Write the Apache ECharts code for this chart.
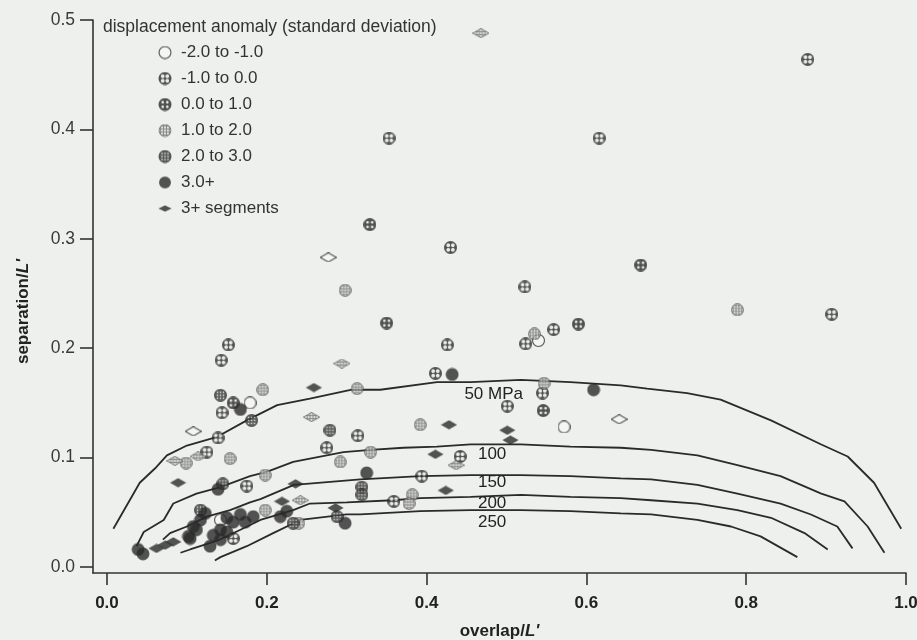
<!DOCTYPE html>
<html><head><meta charset="utf-8">
<script src="https://cdn.jsdelivr.net/npm/echarts@6/dist/echarts.min.js"></script>
<style>html,body{margin:0;padding:0;background:#eef0ed;}#c{width:917px;height:640px;}</style>
</head><body><div id="c"></div>
<script>
// ---------- data ----------
const xTicks = [0.0, 0.2, 0.4, 0.6, 0.8, 1.0];
const yTicks = [0.0, 0.1, 0.2, 0.3, 0.4, 0.5];
const legendTitle = 'displacement anomaly (standard deviation)';
const anomalyClasses = ['-2.0 to -1.0', '-1.0 to 0.0', '0.0 to 1.0', '1.0 to 2.0', '2.0 to 3.0', '3.0+'];
const segmentsLabel = '3+ segments';

const circlesNeg2 = [[0.179,0.150],[0.540,0.207],[0.572,0.128],[0.142,0.043]];
const circlesNeg1 = [[0.877,0.464],[0.353,0.392],[0.616,0.392],[0.430,0.292],[0.523,0.256],[0.907,0.231],[0.559,0.217],[0.152,0.203],[0.143,0.189],[0.144,0.141],[0.139,0.118],[0.314,0.120],[0.275,0.109],[0.125,0.105],[0.426,0.203],[0.524,0.204],[0.411,0.177],[0.545,0.159],[0.501,0.147],[0.442,0.101],[0.394,0.083],[0.175,0.074],[0.359,0.060],[0.158,0.026]];
const circlesPos0 = [[0.329,0.313],[0.668,0.276],[0.590,0.222],[0.350,0.223],[0.546,0.143],[0.158,0.150]];
const circlesPos1 = [[0.298,0.253],[0.789,0.235],[0.535,0.213],[0.195,0.162],[0.313,0.163],[0.099,0.095],[0.154,0.099],[0.292,0.096],[0.330,0.105],[0.198,0.084],[0.392,0.130],[0.382,0.066],[0.378,0.058],[0.198,0.052],[0.240,0.040],[0.547,0.168]];
const circlesPos2 = [[0.142,0.157],[0.181,0.134],[0.279,0.125],[0.145,0.076],[0.319,0.073],[0.319,0.066],[0.233,0.040],[0.288,0.046],[0.117,0.052]];
const circlesPos3 = [[0.167,0.144],[0.432,0.176],[0.609,0.162],[0.325,0.086],[0.139,0.071],[0.217,0.046],[0.225,0.051],[0.298,0.040],[0.117,0.043],[0.123,0.049],[0.108,0.037],[0.102,0.028],[0.129,0.019],[0.142,0.034],[0.150,0.045],[0.158,0.041],[0.167,0.048],[0.173,0.041],[0.183,0.046],[0.150,0.032],[0.142,0.025],[0.133,0.029],[0.039,0.016],[0.045,0.012],[0.112,0.034],[0.104,0.026]];

const diamondsSolid = [[0.259,0.164],[0.089,0.077],[0.236,0.076],[0.219,0.060],[0.286,0.054],[0.428,0.130],[0.501,0.125],[0.505,0.116],[0.411,0.103],[0.424,0.070],[0.062,0.017],[0.073,0.020],[0.083,0.023]];
const diamondsOpen = [[0.277,0.283],[0.108,0.124],[0.641,0.135]];
const diamondsPatterned = [[0.468,0.488],[0.294,0.186],[0.256,0.137],[0.114,0.101],[0.085,0.097],[0.437,0.093],[0.242,0.061]];

const contourNames = ['50 MPa', '100', '150', '200', '250'];
const contour50 = [[0.008,0.035],[0.041,0.077],[0.060,0.090],[0.075,0.102],[0.100,0.111],[0.138,0.119],[0.175,0.134],[0.213,0.148],[0.254,0.154],[0.305,0.162],[0.342,0.162],[0.413,0.169],[0.455,0.169],[0.518,0.171],[0.580,0.169],[0.643,0.166],[0.676,0.163],[0.726,0.159],[0.768,0.153],[0.831,0.134],[0.894,0.112],[0.927,0.101],[0.960,0.077],[0.994,0.035]];
const contour100 = [[0.037,0.019],[0.046,0.032],[0.071,0.043],[0.083,0.058],[0.112,0.067],[0.142,0.073],[0.179,0.083],[0.200,0.087],[0.233,0.096],[0.296,0.105],[0.330,0.107],[0.371,0.109],[0.413,0.110],[0.455,0.112],[0.518,0.112],[0.580,0.110],[0.643,0.109],[0.681,0.107],[0.739,0.102],[0.789,0.093],[0.843,0.083],[0.894,0.067],[0.923,0.060],[0.952,0.037],[0.973,0.013]];
const contour150 = [[0.070,0.025],[0.079,0.031],[0.100,0.037],[0.125,0.046],[0.154,0.052],[0.179,0.059],[0.192,0.062],[0.234,0.075],[0.317,0.080],[0.392,0.083],[0.455,0.084],[0.518,0.084],[0.580,0.083],[0.643,0.081],[0.681,0.080],[0.739,0.075],[0.789,0.067],[0.843,0.058],[0.881,0.048],[0.914,0.037],[0.933,0.017]];
const contour200 = [[0.092,0.013],[0.104,0.016],[0.138,0.024],[0.167,0.034],[0.192,0.043],[0.233,0.052],[0.254,0.058],[0.300,0.059],[0.358,0.061],[0.392,0.063],[0.455,0.064],[0.518,0.066],[0.580,0.064],[0.643,0.063],[0.681,0.061],[0.739,0.058],[0.789,0.052],[0.831,0.045],[0.873,0.031],[0.902,0.016]];
const contour250 = [[0.135,0.006],[0.142,0.009],[0.175,0.019],[0.208,0.031],[0.242,0.043],[0.300,0.048],[0.317,0.048],[0.392,0.051],[0.455,0.052],[0.518,0.052],[0.580,0.051],[0.643,0.049],[0.681,0.048],[0.739,0.043],[0.781,0.037],[0.818,0.028],[0.864,0.009]];
const contourLabelAt = [[0.484,0.158],[0.482,0.103],[0.482,0.077],[0.482,0.058],[0.482,0.041]];

// ---------- styling helpers ----------
const FONT = '"Liberation Sans", Arial, sans-serif';
const DARK = '#2b2b2b';

function marker(kind, shape, w, h, boxW, boxH) {
  const s = 4;
  boxW = boxW || w; boxH = boxH || h;
  const c = document.createElement('canvas');
  c.width = boxW * s; c.height = boxH * s;
  const g = c.getContext('2d');
  g.scale(s, s);
  const cx = boxW / 2, cy = boxH / 2;
  function path() {
    g.beginPath();
    if (shape === 'circle') g.arc(cx, cy, Math.min(w, h) / 2 - 0.6, 0, Math.PI * 2);
    else { g.moveTo(cx, cy - h / 2 + 0.4); g.lineTo(cx + w / 2 - 0.4, cy); g.lineTo(cx, cy + h / 2 - 0.4); g.lineTo(cx - w / 2 + 0.4, cy); g.closePath(); }
  }
  if (kind === 'open') {
    path(); g.fillStyle = '#f6f7f5'; g.fill(); g.lineWidth = 1.1; g.strokeStyle = DARK; g.stroke();
  } else if (kind === 'solid') {
    path(); g.fillStyle = DARK; g.fill();
  } else {
    g.save(); path(); g.clip();
    if (kind === 'neg1' || kind === 'pos0') {
      g.fillStyle = DARK; g.fillRect(0, 0, boxW, boxH);
      const r = kind === 'neg1' ? 1.9 : 1.35, d = 2.3;
      g.fillStyle = '#e9ebe8';
      [[-1,-1],[1,-1],[-1,1],[1,1]].forEach(p => { g.beginPath(); g.arc(cx + p[0]*d, cy + p[1]*d, r, 0, Math.PI*2); g.fill(); });
    } else if (kind === 'pos1') {
      g.fillStyle = '#6f6f6d'; g.fillRect(0, 0, boxW, boxH);
      g.fillStyle = '#e6e8e5';
      for (let i = -2; i <= 2; i++) for (let j = -2; j <= 2; j++) g.fillRect(cx + i * 2.9 - 0.95, cy + j * 2.9 - 0.95, 1.9, 1.9);
    } else if (kind === 'pos2') {
      g.fillStyle = '#3a3a3a'; g.fillRect(0, 0, boxW, boxH);
      g.fillStyle = '#d8dad7';
      for (let i = -1; i <= 1; i++) for (let j = -1; j <= 1; j++) g.fillRect(cx + i * 3.0 - 0.7, cy + j * 3.0 - 0.7, 1.4, 1.4);
    }
    g.restore();
    path(); g.lineWidth = kind === 'pos1' ? 0.8 : 1.1; g.strokeStyle = kind === 'pos1' ? '#555' : DARK; g.stroke();
  }
  return 'image://' + c.toDataURL();
}

const circleKinds = ['open', 'neg1', 'pos0', 'pos1', 'pos2', 'solid'];
const circleData = [circlesNeg2, circlesNeg1, circlesPos0, circlesPos1, circlesPos2, circlesPos3];
const circleIcons = circleKinds.map(k => marker(k, 'circle', k === 'solid' ? 14 : 13, k === 'solid' ? 14 : 13));
const legendIcons = circleKinds.map(k => marker(k, 'circle', 13, 13, 14, 14));
const diamondSolidIcon = marker('solid', 'diamond', 17, 10);
const diamondOpenIcon = marker('open', 'diamond', 17, 10);
const diamondPatIcon = marker('pos1', 'diamond', 17, 10);
const legendDiamond = marker('solid', 'diamond', 16, 8, 16, 14);

const series = [];
const contours = [contour50, contour100, contour150, contour200, contour250];
contours.forEach((c, i) => {
  series.push({
    type: 'line', name: 'contour ' + contourNames[i], data: c, showSymbol: false, symbol: 'none',
    lineStyle: { color: '#2a2a2a', width: 1.8 }, z: 2, silent: true, animation: false,
    markPoint: {
      symbol: 'rect', symbolSize: [1, 1], itemStyle: { color: 'rgba(0,0,0,0)' }, silent: true,
      label: { show: true, position: 'inside', formatter: contourNames[i], color: '#222', fontSize: 17, fontFamily: FONT },
      data: [{ coord: contourLabelAt[i] }]
    }
  });
});
circleData.forEach((d, i) => {
  const sz = circleKinds[i] === 'solid' ? 14 : 13;
  series.push({ type: 'scatter', name: anomalyClasses[i], data: d, symbol: circleIcons[i], symbolSize: sz, z: 3 });
});
series.push({ type: 'scatter', name: segmentsLabel, data: diamondsSolid, symbol: diamondSolidIcon, symbolSize: [17, 10], z: 3 });
series.push({ type: 'scatter', name: segmentsLabel + ' (' + anomalyClasses[0] + ')', data: diamondsOpen, symbol: diamondOpenIcon, symbolSize: [17, 10], z: 3 });
series.push({ type: 'scatter', name: segmentsLabel + ' (' + anomalyClasses[3] + ')', data: diamondsPatterned, symbol: diamondPatIcon, symbolSize: [17, 10], z: 3 });

const legendData = anomalyClasses.map((n, i) => ({ name: n, icon: legendIcons[i] }));
legendData.push({ name: segmentsLabel, icon: legendDiamond });

const axisCommon = {
  type: 'value', splitLine: { show: false },
  axisLine: { show: true, onZero: false, lineStyle: { color: '#333', width: 1.6 } },
  axisTick: { show: true, length: 12, lineStyle: { color: '#333', width: 1.6 } }
};
const nameRich = {
  b: { fontSize: 17, fontWeight: 'bold', color: '#222', fontFamily: FONT },
  i: { fontSize: 17, fontWeight: 'bold', fontStyle: 'italic', color: '#222', fontFamily: FONT }
};

const chart = echarts.init(document.getElementById('c'), null, { renderer: 'canvas' });
chart.setOption({
  backgroundColor: '#eef0ed',
  animation: false,
  textStyle: { fontFamily: FONT },
  title: { text: legendTitle, left: 98, top: 13, textStyle: { fontSize: 17.5, fontWeight: 'normal', color: '#333', fontFamily: FONT } },
  legend: {
    data: legendData, orient: 'vertical', left: 153, top: 39, itemWidth: 14, itemHeight: 14, itemGap: 9,
    selectedMode: false, textStyle: { fontSize: 17, color: '#333', fontFamily: FONT, lineHeight: 17, padding: [0, 0, 0, 4] }
  },
  grid: { left: 93, right: 11, top: 20, bottom: 67, containLabel: false, outerBoundsMode: 'none' },
  xAxis: Object.assign({}, axisCommon, {
    min: -0.0175, max: 1.0,
    axisTick: Object.assign({}, axisCommon.axisTick, { customValues: xTicks }),
    axisLabel: { customValues: xTicks, formatter: v => v.toFixed(1), margin: 22, fontSize: 17, fontWeight: 'bold', color: '#222', fontFamily: FONT },
    name: "{b|overlap/}{i|L'}", nameLocation: 'middle', nameGap: 50,
    nameTextStyle: { rich: nameRich }
  }),
  yAxis: Object.assign({}, axisCommon, {
    min: -0.0055, max: 0.5,
    axisTick: Object.assign({}, axisCommon.axisTick, { customValues: yTicks, length: 13 }),
    axisLabel: { customValues: yTicks, formatter: v => v.toFixed(1), margin: 18, fontSize: 17.5, color: '#3a3a3a', fontFamily: FONT },
    name: "{b|separation/}{i|L'}", nameLocation: 'middle', nameGap: 61,
    nameTextStyle: { padding: [0, 30, 0, 0], rich: nameRich }
  }),
  series: series
});
</script>
</body></html>
